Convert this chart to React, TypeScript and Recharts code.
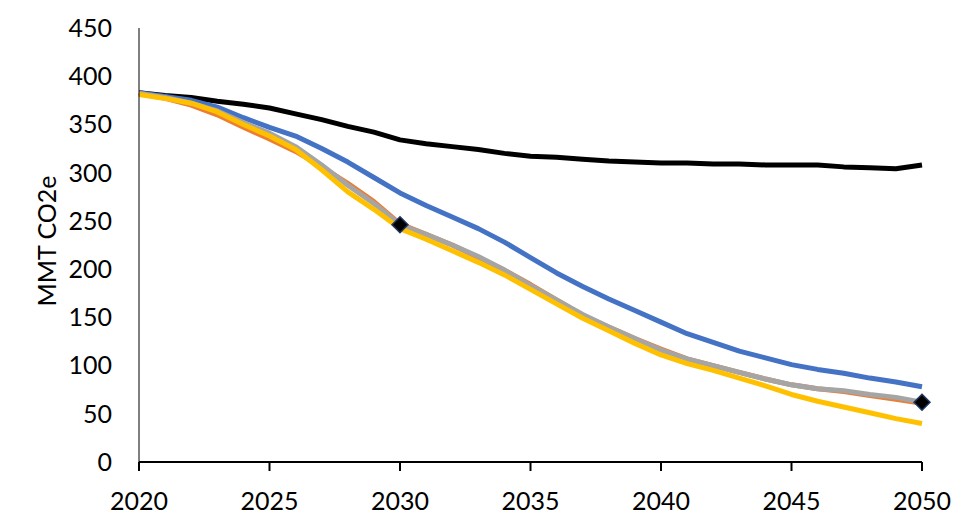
import React from 'react';
import { LineChart, Line, XAxis, YAxis } from 'recharts';

const years = [2020, 2021, 2022, 2023, 2024, 2025, 2026, 2027, 2028, 2029, 2030, 2031, 2032, 2033, 2034, 2035, 2036, 2037, 2038, 2039, 2040, 2041, 2042, 2043, 2044, 2045, 2046, 2047, 2048, 2049, 2050];

const blackSeries = [383, 380, 378, 374, 371, 367, 361, 355, 348, 342, 334, 330, 327, 324, 320, 317, 316, 314, 312, 311, 310, 310, 309, 309, 308, 308, 308, 306, 305, 304, 308];
const blueSeries = [383, 379, 375, 368, 357, 347, 338, 325, 311, 295, 279, 266, 254, 242, 228, 212, 196, 182, 169, 157, 145, 133, 124, 115, 108, 101, 96, 92, 87, 83, 78];
const orangeSeries = [382, 377, 370, 360, 347, 335, 322, 306, 289, 270, 247, 236, 225, 212, 199, 184, 168, 152, 140, 128, 117, 107, 100, 93, 86, 80, 76, 73, 69, 65, 61];
const graySeries = [382, 378, 372, 364, 352, 341, 327, 308, 287, 268, 246, 236, 225, 213, 199, 183, 168, 153, 140, 128, 116, 107, 100, 93, 86, 80, 76, 74, 70, 67, 62];
const yellowSeries = [381, 377, 372, 363, 350, 338, 324, 303, 280, 262, 242, 231, 219, 207, 194, 179, 164, 149, 136, 123, 111, 102, 95, 87, 79, 70, 63, 57, 51, 45, 40];
const markerYears = [2030, 2050];

const xTicks = [2020, 2025, 2030, 2035, 2040, 2045, 2050];
const yTicks = [0, 50, 100, 150, 200, 250, 300, 350, 400, 450];
const yTitle = 'MMT CO2e';

const data = years.map((year, i) => ({
  year,
  black: blackSeries[i],
  blue: blueSeries[i],
  orange: orangeSeries[i],
  gray: graySeries[i],
  yellow: yellowSeries[i],
  marker: markerYears.includes(year) ? graySeries[i] : null,
}));

const FONT = 'Lato, "Open Sans", sans-serif';

const Diamond = (props: any) => {
  const { cx, cy, value, index } = props;
  if (value == null || cx == null || cy == null) return <g key={`d-${index}`} />;
  const r = 8;
  return (
    <path
      key={`d-${index}`}
      d={`M${cx},${cy - r}L${cx + r},${cy}L${cx},${cy + r}L${cx - r},${cy}Z`}
      fill="#000000"
      stroke="#1F3864"
      strokeWidth={1.5}
    />
  );
};

const YTitle = (props: any) => {
  const vb = props.viewBox || {};
  const x = (vb.x ?? 0) + 46;
  const y = (vb.y ?? 0) + (vb.height ?? 0) / 2 - 4;
  return (
    <text
      x={x}
      y={y}
      transform={`rotate(-90, ${x}, ${y})`}
      textAnchor="middle"
      dominantBaseline="central"
      fontFamily={FONT}
      fontSize={25}
      fill="#000"
    >
      {yTitle}
    </text>
  );
};

export default function App() {
  return (
    <div style={{ position: 'absolute', left: 0, top: 0, width: 975, height: 530, background: '#fff' }}>
      <LineChart width={975} height={530} data={data} margin={{ top: 28, right: 53, left: 0, bottom: 28 }}>
        <XAxis
          dataKey="year"
          type="number"
          domain={[2020, 2050]}
          ticks={xTicks}
          interval={0}
          height={40}
          axisLine={{ stroke: '#000', strokeWidth: 2 }}
          tickLine={{ stroke: '#000', strokeWidth: 2 }}
          tickSize={9}
          tickMargin={21}
          tick={{ fill: '#000', fontSize: 25, fontFamily: FONT }}
        />
        <YAxis
          type="number"
          domain={[0, 450]}
          ticks={yTicks}
          interval={0}
          width={139}
          axisLine={{ stroke: '#000', strokeWidth: 1 }}
          tickLine={false}
          tickSize={0}
          tickMargin={27}
          tick={{ fill: '#000', fontSize: 25, fontFamily: FONT }}
          label={{ content: <YTitle /> }}
        />
        <Line dataKey="black" stroke="#000000" strokeWidth={5} dot={false} isAnimationActive={false} strokeLinejoin="round" />
        <Line dataKey="blue" stroke="#4472C4" strokeWidth={5} dot={false} isAnimationActive={false} strokeLinejoin="round" />
        <Line dataKey="orange" stroke="#ED7D31" strokeWidth={5} dot={false} isAnimationActive={false} strokeLinejoin="round" />
        <Line dataKey="gray" stroke="#A5A5A5" strokeWidth={5} dot={false} isAnimationActive={false} strokeLinejoin="round" />
        <Line dataKey="yellow" stroke="#FFC000" strokeWidth={5} dot={false} isAnimationActive={false} strokeLinejoin="round" />
        <Line dataKey="marker" stroke="none" dot={<Diamond />} activeDot={false} isAnimationActive={false} connectNulls={false} />
      </LineChart>
    </div>
  );
}
